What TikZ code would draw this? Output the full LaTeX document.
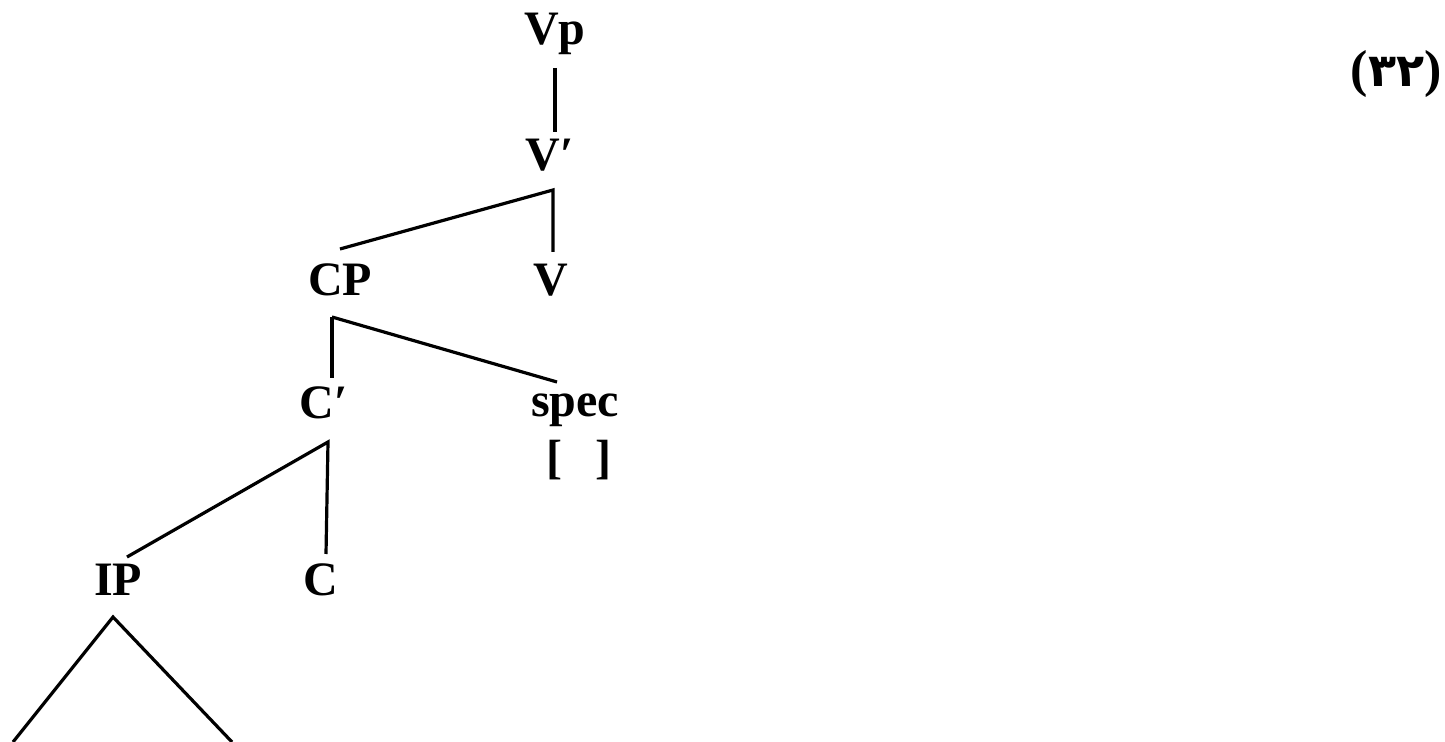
\documentclass[tikz,border=0pt]{standalone}
\usepackage{fontspec}
\setmainfont{Liberation Serif}
\newfontfamily\arabicfont{DejaVu Sans}
\begin{document}
\begin{tikzpicture}[x=0.5pt,y=-0.5pt,
  lab/.style={font=\fontsize{24}{26}\selectfont\bfseries, inner sep=0pt},
  br/.style={line width=1.6pt, line join=miter}]
\useasboundingbox (0,0) rectangle (1445,742);
\fill[white] (0,0) rectangle (1445,742);
% nodes
\node[lab] (vp) at (555,34) {Vp};
\node[lab] (vbar) at (550,155) {V′};
\node[lab] (cp) at (340,280) {CP};
\node[lab] (v) at (551,280) {V};
\node[lab] (cbar) at (324,403) {C′};
\node[lab] (spec) at (575,410) {spec};
\node[lab] (brk) at (579,460) {[\hspace{0.7em}]};
\node[lab] (ip) at (118,580) {IP};
\node[lab] (c) at (321,580) {C};
\node[lab, anchor=east, font=\fontsize{26}{28}\selectfont\bfseries] (num) at (1442,74) {({\arabicfont\bfseries\fontsize{23}{25}\selectfont ۳۲})};
% branch points
\coordinate (vbj) at (553,190);
\coordinate (cpj) at (332,317);
\coordinate (cbj) at (328,442);
\coordinate (tri) at (113,617);
\coordinate (tl) at (13,742);
\coordinate (tr) at (232,742);
% connectors
\draw[br] (555,68) -- (555,132);
\draw[br] (340,249) -- (vbj) -- (553,252);
\draw[br] (cpj) -- (332,378);
\draw[br] (cpj) -- (557,382);
\draw[br] (127,557) -- (cbj) -- (326,554);
\draw[br] (tl) -- (tri) -- (tr);
\end{tikzpicture}
\end{document}
